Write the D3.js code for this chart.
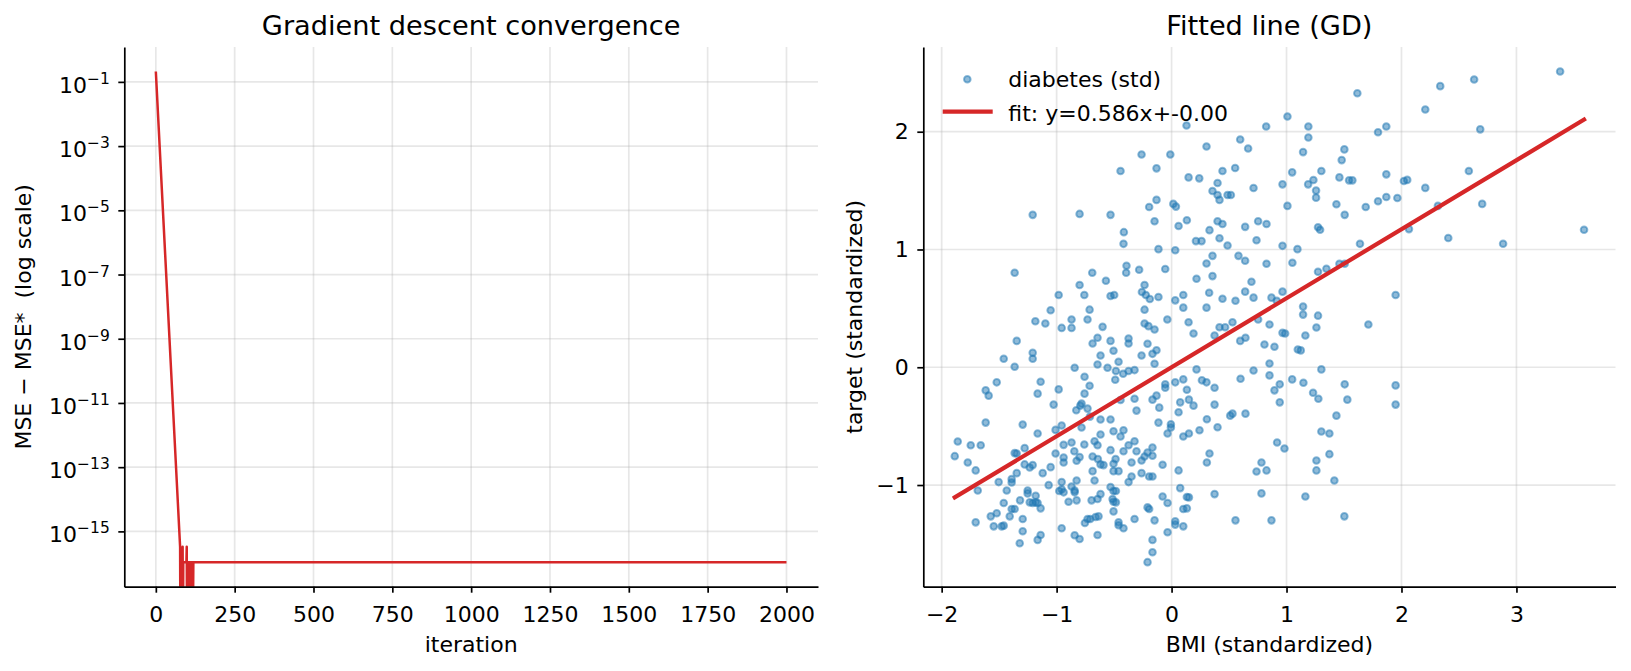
<!DOCTYPE html>
<html>
<head>
<meta charset="utf-8">
<script src="https://cdn.jsdelivr.net/npm/d3@7"></script>
<style>
  body { margin: 0; background: #fff; }
  svg text { font-family: "DejaVu Sans", sans-serif; }
</style>
</head>
<body>
<script>
// ---- left panel: MSE - MSE* per iteration (breakpoints, 0 = exactly MSE*)
const iterations = [0, 77, 78, 79, 84, 85, 86, 87, 97, 98, 99, 100, 105, 106, 107, 108, 110, 111, 113, 114, 116, 117, 119, 2000];
const gap = [0.21, 3.3e-16, 0, 1.1e-16, 1.1e-16, 3.3e-16, 0, 1.1e-16, 1.1e-16, 3.3e-16, 0, 1.1e-16,
  1.1e-16, 0, 1.1e-16, 0, 1.1e-16, 0, 1.1e-16, 0, 1.1e-16, 0, 1.1e-16, 1.1e-16];
const iterTicks = [0, 250, 500, 750, 1000, 1250, 1500, 1750, 2000];
const logTickExps = [-1, -3, -5, -7, -9, -11, -13, -15];

// ---- right panel: standardized BMI vs target
const bmi = [
  -0.261,-0.444,-0.131,-1.208,-0.800,-0.531,-0.195,-0.131,-0.148,-0.415,
  -0.418,-0.114,-1.365,-0.690,-0.392,-0.395,-0.282,-0.800,-0.571,-0.235,
  -0.982,-0.759,-0.531,-0.499,-0.258,-0.224,-0.189,-0.114,-1.052,-0.713,
  -0.235,
  1.616,1.008,0.130,0.823,1.190,1.190,1.796,1.868,0.597,0.304,
  0.666,1.144,1.503,1.480,-0.011,0.148,0.241,0.443,0.553,0.400,
  0.965,1.049,1.188,1.234,1.303,1.460,1.544,1.573,1.868,0.356,
  0.400,0.417,0.487,0.516,0.713,1.257,1.257,1.008,1.434,1.506,
  1.689,1.796,1.868,1.964,0.015,0.038,0.133,0.061,0.400,0.443,
  0.330,0.640,0.753,0.826,1.274,1.292,0.212,0.261,0.417,0.487,
  0.739,0.965,1.095,1.639,0.032,0.356,0.304,0.582,0.640,0.826,
  1.051,1.274,1.347,1.460,1.506,-0.055,0.217,0.356,0.695,0.327,
  0.640,0.032,0.102,0.102,0.304,0.443,0.556,0.713,0.869,0.915,
  0.965,1.144,1.144,1.274,1.949,
  3.380,2.337,2.632,2.207,2.685,2.586,2.021,2.050,2.207,2.317,
  2.702,2.065,2.407,2.884,3.588,
  -1.185,-1.098,-0.956,-0.870,-0.870,-0.731,-0.600,-0.235,-0.201,-0.148,
  -1.347,-1.208,-1.208,-1.460,-1.365,-0.687,-0.644,-0.531,-0.374,-0.374,
  -0.209,-0.505,-0.618,-0.261,-0.166,-0.131,-0.644,-0.557,-0.461,-0.843,
  -0.484,-0.421,-0.374,-0.322,-0.148,-0.757,-0.490,-0.713,-1.521,-1.617,
  -1.591,-1.139,-1.165,-0.982,-0.757,-1.026,-0.783,-0.794,-0.829,-0.731,
  -0.710,-0.322,-0.444,-0.166,-0.131,-0.305,-0.114,-1.617,-1.295,-1.165,
  -0.956,-1.009,-0.783,-0.618,-0.531,-0.505,-0.418,-0.444,-0.618,-1.860,
  -1.747,-1.660,-1.886,-1.773,-1.704,-1.365,-1.347,-1.278,-1.234,-1.208,
  -1.278,-1.347,-1.121,-1.052,-1.009,-0.939,-0.870,-0.846,-0.939,-0.939,
  -0.826,-0.800,-0.759,-0.670,-0.644,-0.687,-0.641,-0.618,-0.592,-0.687,
  -0.670,-0.531,-0.487,-0.505,-0.505,-0.461,-0.418,-0.374,-0.322,-0.305,
  -0.348,-0.261,-0.235,-0.209,-0.166,-0.166,-0.261,-0.195,-0.166,-0.374,
  -0.348,-1.686,-1.504,-1.434,-1.391,-1.391,-1.252,-1.252,-1.182,-1.069,
  -0.956,-0.956,-0.977,-0.939,-0.870,-0.843,-0.843,-0.826,-0.896,-0.826,
  -0.696,-0.644,-0.618,-0.531,-0.505,-0.484,-0.513,-0.505,-0.484,-0.505,
  -1.460,-1.318,-1.234,-1.208,-1.182,-1.165,-1.139,-1.391,-1.365,-1.521,
  -1.573,-1.408,-1.295,-1.704,-1.547,-1.478,-1.460,-1.295,-1.321,-1.165,
  -1.139,-0.956,-0.843,-0.800,-0.754,-0.731,-0.707,-0.661,-0.635,-0.644,
  -0.461,-0.461,-0.418,-0.322,-0.209,-0.195,-0.148,-0.166,-0.166,-0.209,
  -0.037,0.148,0.191,0.374,0.417,0.466,0.530,0.597,0.643,0.753,
  0.852,0.965,0.988,0.808,0.895,1.164,1.260,1.098,1.124,1.712,
  0.217,0.713,0.600,0.852,0.852,1.049,1.147,1.303,1.506,-0.055,
  -0.055,0.032,0.102,0.133,0.264,0.304,0.374,0.941,0.895,1.231,
  1.277,1.529,0.941,1.949,1.949,0.075,0.151,0.191,0.374,0.061,
  -0.107,0.307,0.510,0.530,0.643,1.434,-0.006,-0.006,-0.035,0.102,
  0.151,0.243,0.400,1.303,1.373,0.918,0.982,0.330,0.307,-0.078,
  0.061,0.782,0.739,0.826,1.260,1.260,1.373,1.416,0.075,-0.078,
  -0.035,0.133,0.151,0.374,0.782,1.164,0.102,0.133,0.032,0.032,
  0.102,-0.035,0.556,0.869,1.503
];
const target = [
  1.807,1.666,1.689,1.294,1.302,1.294,1.361,1.421,1.240,1.147,
  1.048,1.003,0.802,0.802,0.862,0.802,0.828,0.698,0.735,0.698,
  0.613,0.613,0.605,0.613,0.639,0.613,0.579,0.596,0.484,0.489,
  0.489,
  2.327,2.129,2.053,2.044,2.044,1.951,1.996,2.044,1.934,1.875,
  1.858,1.827,1.850,1.759,1.807,1.612,1.604,1.666,1.692,1.565,
  1.553,1.655,1.553,1.590,1.666,1.612,1.587,1.587,1.638,1.497,
  1.463,1.421,1.463,1.463,1.522,1.500,1.440,1.370,1.384,1.294,
  1.361,1.409,1.446,1.437,1.387,1.364,1.248,1.200,1.240,1.217,
  1.164,1.192,1.240,1.217,1.189,1.167,1.071,1.071,1.096,1.034,
  1.079,1.031,1.003,1.048,0.994,0.946,0.881,0.946,0.904,0.879,
  0.887,0.811,0.836,0.879,0.879,0.834,0.752,0.774,0.726,0.633,
  0.642,0.568,0.613,0.506,0.506,0.582,0.565,0.591,0.591,0.565,
  0.642,0.515,0.447,0.438,0.613,
  2.511,2.387,2.443,2.189,2.020,1.667,1.582,1.591,1.523,1.370,
  1.387,1.173,1.097,1.049,1.167,
  0.391,0.371,0.334,0.334,0.405,0.405,0.343,0.371,0.349,0.320,
  0.224,0.123,0.072,0.072,0.004,0.202,0.250,0.224,0.244,0.202,
  0.199,0.140,0.100,0.100,0.114,0.145,0.024,-0.004,0.047,-0.004,
  -0.032,-0.055,-0.032,-0.024,0.030,-0.080,-0.106,-0.157,-0.128,-0.196,
  -0.241,-0.123,-0.224,-0.188,-0.224,-0.317,-0.309,-0.326,-0.365,-0.351,
  -0.419,-0.267,-0.278,-0.275,-0.241,-0.368,-0.470,-0.470,-0.487,-0.563,
  -0.495,-0.532,-0.512,-0.444,-0.444,-0.543,-0.535,-0.588,-0.571,-0.631,
  -0.662,-0.662,-0.755,-0.809,-0.876,-0.729,-0.732,-0.687,-0.851,-0.831,
  -0.825,-0.899,-0.899,-0.848,-0.732,-0.659,-0.639,-0.713,-0.766,-0.809,
  -0.794,-0.763,-0.656,-0.628,-0.662,-0.758,-0.780,-0.825,-0.831,-0.882,
  -0.961,-0.704,-0.780,-0.820,-0.882,-0.882,-0.713,-0.662,-0.628,-0.713,
  -0.809,-0.792,-0.758,-0.724,-0.682,-0.752,-0.899,-0.927,-0.927,-0.975,
  -0.927,-1.046,-0.975,-1.046,-0.950,-0.978,-1.046,-1.071,-1.091,-1.001,
  -0.975,-1.037,-1.051,-1.062,-1.012,-1.046,-1.062,-0.961,-1.142,-1.130,
  -1.130,-1.119,-1.077,-1.017,-1.051,-1.051,-1.119,-1.142,-1.147,-1.224,
  -1.153,-1.130,-1.147,-1.153,-1.147,-1.153,-1.198,-1.204,-1.204,-1.240,
  -1.266,-1.266,-1.288,-1.317,-1.351,-1.351,-1.345,-1.393,-1.495,-1.466,
  -1.424,-1.367,-1.427,-1.458,-1.322,-1.288,-1.288,-1.271,-1.266,-1.424,
  -1.317,-1.342,-1.367,-1.288,-1.190,-1.204,-1.300,-1.466,-1.571,-1.655,
  0.405,0.382,0.286,0.270,0.340,0.340,0.382,0.224,0.250,0.405,
  0.363,0.292,0.286,0.193,0.174,0.270,0.337,0.151,0.143,0.363,
  -0.018,-0.027,-0.097,0.032,-0.069,-0.103,-0.131,-0.018,-0.145,-0.145,
  -0.174,-0.128,-0.103,-0.191,-0.111,-0.128,-0.174,-0.145,-0.196,-0.216,
  -0.267,-0.275,-0.298,-0.154,-0.317,-0.298,-0.275,-0.326,-0.317,-0.382,
  -0.343,-0.442,-0.411,-0.394,-0.394,-0.411,-0.484,-0.512,-0.563,-0.588,
  -0.563,-0.535,-0.509,-0.546,-0.563,-0.639,-0.690,-0.732,-0.809,-0.828,
  -0.876,-0.809,-0.885,-0.876,-0.792,-0.876,-0.738,-0.961,-1.026,-1.097,
  -1.153,-1.102,-1.105,-1.077,-1.071,-1.097,-1.204,-1.198,-1.308,-1.336,
  -1.351,-1.401,-1.300,-1.300,-1.266
];
const slope = 0.586;
const intercept = -0.00;
const fitLabel = 'fit: y=0.586x+-0.00';
const bmiTicks = [-2, -1, 0, 1, 2, 3];
const targetTicks = [-1, 0, 1, 2];

// ---- layout
const width = 1631, height = 671;
const plotTop = 47, plotBottom = 586.7;
const red = '#d62728', blue = '#1f77b4';

let svg = d3.select('body').append('svg')
  .attr('width', width)
  .attr('height', height);

// matplotlib style 5% margins
function pad(ext, f) {
  let d = (ext[1] - ext[0]) * f;
  return [ext[0] - d, ext[1] + d];
}

function grid(g, xs, ys, x0, x1) {
  g.selectAll('line.gx').data(xs).join('line').attr('class', 'gx')
    .attr('x1', d => d).attr('x2', d => d).attr('y1', plotTop).attr('y2', plotBottom);
  g.selectAll('line.gy').data(ys).join('line').attr('class', 'gy')
    .attr('x1', x0).attr('x2', x1).attr('y1', d => d).attr('y2', d => d);
  g.selectAll('line')
    .attr('stroke', '#b0b0b0').attr('stroke-opacity', 0.3).attr('stroke-width', 1.7);
}

function styleAxis(g) {
  g.attr('font-family', null).attr('font-size', 22).attr('color', '#000');
  g.select('.domain').attr('stroke-width', 1.7);
  g.selectAll('.tick line').attr('stroke-width', 1.7);
  g.selectAll('.tick text').attr('fill', '#000');
}

// ================= left: convergence =================
let xIt = d3.scaleLinear().domain(pad(d3.extent(iterations), 0.05)).range([124.3, 818]);
let logExt = pad(d3.extent(gap.filter(v => v > 0)).map(Math.log10), 0.05);
let yLog = d3.scaleLog().domain(logExt.map(e => Math.pow(10, e))).range([plotBottom, plotTop]);

let left = svg.append('g');
grid(left.append('g'), iterTicks.map(xIt), logTickExps.map(e => yLog(Math.pow(10, e))), 124.3, 818);

svg.append('clipPath').attr('id', 'clipL')
  .append('rect').attr('x', 124.3).attr('y', plotTop).attr('width', 818 - 124.3).attr('height', plotBottom - plotTop);

let conv = d3.line()
  .x(i => xIt(iterations[i]))
  .y(i => gap[i] > 0 ? yLog(gap[i]) : plotBottom + 60);

left.append('path')
  .attr('d', conv(d3.range(iterations.length)))
  .attr('clip-path', 'url(#clipL)')
  .attr('fill', 'none')
  .attr('stroke', red)
  .attr('stroke-width', 2.5)
  .attr('stroke-linejoin', 'round');

left.append('g')
  .attr('transform', `translate(0,${plotBottom})`)
  .call(d3.axisBottom(xIt).tickValues(iterTicks).tickFormat(d3.format('d'))
    .tickSize(6).tickSizeOuter(0).tickPadding(13.4))
  .call(styleAxis);

let yAxL = left.append('g')
  .attr('transform', 'translate(124.3,0)')
  .call(d3.axisLeft(yLog).tickValues(logTickExps.map(e => Math.pow(10, e)))
    .tickSize(6).tickSizeOuter(0).tickPadding(8.5).tickFormat(() => ''))
  .call(styleAxis);

yAxL.selectAll('.tick text').attr('dy', '0.48em').each(function(d) {
  let e = Math.round(Math.log10(d));
  let t = d3.select(this);
  t.append('tspan').text('10');
  t.append('tspan').attr('dy', -9).attr('font-size', 15.5).text('\u2212' + Math.abs(e));
});

left.append('text')
  .attr('x', (124.3 + 818) / 2).attr('y', 35)
  .attr('text-anchor', 'middle').attr('font-size', 27.2)
  .text('Gradient descent convergence');

left.append('text')
  .attr('x', (124.3 + 818) / 2).attr('y', 652)
  .attr('text-anchor', 'middle').attr('font-size', 22)
  .text('iteration');

left.append('text')
  .attr('transform', `translate(31,${(plotTop + plotBottom) / 2}) rotate(-90)`)
  .attr('text-anchor', 'middle').attr('font-size', 22)
  .style('white-space', 'pre')
  .text('MSE \u2212 MSE*  (log scale)');

// ================= right: fitted line =================
const rx0 = 923.3, rx1 = 1615.5;
let xB = d3.scaleLinear().domain(pad(d3.extent(bmi), 0.05)).range([rx0, rx1]);
let yT = d3.scaleLinear().domain(pad(d3.extent(target), 0.05)).range([plotBottom, plotTop]);

let right = svg.append('g');
grid(right.append('g'), bmiTicks.map(xB), targetTicks.map(yT), rx0, rx1);

right.append('g').selectAll('circle')
  .data(d3.range(bmi.length))
  .join('circle')
  .attr('cx', i => xB(bmi[i]))
  .attr('cy', i => yT(target[i]))
  .attr('r', 3.3)
  .attr('fill', blue).attr('fill-opacity', 0.5)
  .attr('stroke', blue).attr('stroke-opacity', 0.5).attr('stroke-width', 2);

let fitX = d3.extent(bmi);
right.append('path')
  .attr('d', d3.line().x(d => xB(d)).y(d => yT(slope * d + intercept))(fitX))
  .attr('fill', 'none')
  .attr('stroke', red)
  .attr('stroke-width', 4.2)
  .attr('stroke-linecap', 'square');

right.append('g')
  .attr('transform', `translate(0,${plotBottom})`)
  .call(d3.axisBottom(xB).tickValues(bmiTicks).tickFormat(d3.format('d'))
    .tickSize(6).tickSizeOuter(0).tickPadding(13.4))
  .call(styleAxis);

right.append('g')
  .attr('transform', `translate(${rx0},0)`)
  .call(d3.axisLeft(yT).tickValues(targetTicks).tickFormat(d3.format('d'))
    .tickSize(6).tickSizeOuter(0).tickPadding(8.5))
  .call(styleAxis);

right.append('text')
  .attr('x', (rx0 + rx1) / 2).attr('y', 35)
  .attr('text-anchor', 'middle').attr('font-size', 27.2)
  .text('Fitted line (GD)');

right.append('text')
  .attr('x', (rx0 + rx1) / 2).attr('y', 652)
  .attr('text-anchor', 'middle').attr('font-size', 22)
  .text('BMI (standardized)');

right.append('text')
  .attr('transform', `translate(862,${(plotTop + plotBottom) / 2}) rotate(-90)`)
  .attr('text-anchor', 'middle').attr('font-size', 22)
  .text('target (standardized)');

// legend
let legend = right.append('g');
legend.append('circle')
  .attr('cx', 967.3).attr('cy', 79.3).attr('r', 3.3)
  .attr('fill', blue).attr('fill-opacity', 0.5)
  .attr('stroke', blue).attr('stroke-opacity', 0.5).attr('stroke-width', 2);
legend.append('text')
  .attr('x', 1008.3).attr('y', 86.5).attr('font-size', 22)
  .text('diabetes (std)');
legend.append('line')
  .attr('x1', 942.7).attr('x2', 992.7).attr('y1', 111.7).attr('y2', 111.7)
  .attr('stroke', red).attr('stroke-width', 4.2);
legend.append('text')
  .attr('x', 1008.3).attr('y', 120.5).attr('font-size', 22)
  .text(fitLabel);
</script>
</body>
</html>
